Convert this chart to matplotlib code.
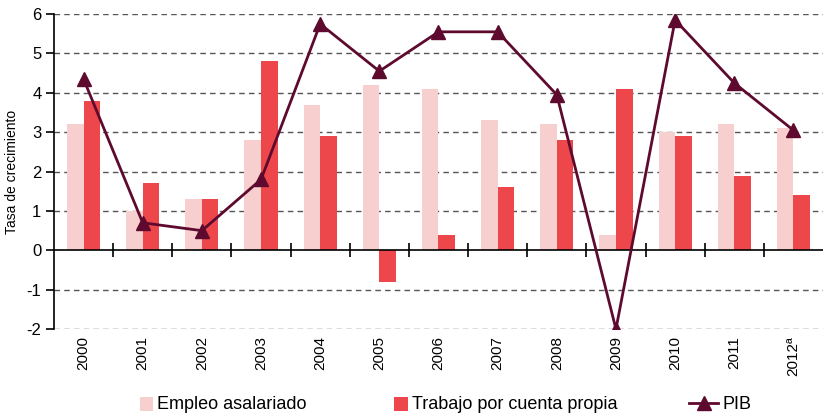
import numpy as np
import matplotlib
matplotlib.use("Agg")
from matplotlib import pyplot as plt
from matplotlib.patches import Rectangle
from matplotlib.legend_handler import HandlerPatch

plt.rcParams['font.family'] = ['Liberation Sans', 'DejaVu Sans']
plt.rcParams['axes.unicode_minus'] = False

# data
years = ['2000', '2001', '2002', '2003', '2004', '2005', '2006',
         '2007', '2008', '2009', '2010', '2011', '2012ª']
empleo_asalariado = [3.2, 1.0, 1.3, 2.8, 3.7, 4.2, 4.1, 3.3, 3.2, 0.4, 3.0, 3.2, 3.1]
cuenta_propia = [3.8, 1.7, 1.3, 4.8, 2.9, -0.8, 0.4, 1.6, 2.8, 4.1, 2.9, 1.9, 1.4]
pib = [4.35, 0.7, 0.5, 1.8, 5.75, 4.55, 5.55, 5.55, 3.95, -2.0, 5.85, 4.25, 3.05]

light = '#F8CFCF'
red = '#EE474B'
maroon = '#5E0A2E'


def square_patch(legend, orig_handle, xdescent, ydescent, width, height, fontsize):
    # small square at the right end of the handle box
    s = height * 1.05
    return Rectangle((-xdescent + width - s, -ydescent - 0.1 * s), s, s)


fig = plt.figure(figsize=(8.23, 4.15), dpi=100)
ax = fig.add_axes([0.0656, 0.207, 0.9344, 0.759])

x = np.arange(len(years))
w = 0.28
b1 = ax.bar(x - w / 2, empleo_asalariado, w, color=light, zorder=2)
b2 = ax.bar(x + w / 2, cuenta_propia, w, color=red, zorder=2)
l1, = ax.plot(x, pib, color=maroon, lw=2, marker='^', ms=10, zorder=4)

ax.set_xlim(-0.5, len(years) - 0.5)
ax.set_ylim(-2, 6)
ax.set_yticks(range(-2, 7))
for v in range(-2, 7):
    if v != 0:
        ax.axhline(v, color='#555555', lw=1, ls=(0, (4, 3)), zorder=1)
ax.axhline(0, color='black', lw=1.2, zorder=3)

# category boundary ticks on the zero line
ax.plot(x[:-1] + 0.5, np.zeros(len(x) - 1), ls='none', marker='|', ms=10,
        mew=1.2, color='black', zorder=3, clip_on=False)

ax.set_xticks(x)
ax.set_xticklabels(years, rotation=90, fontsize=11)
ax.tick_params(axis='x', length=0, pad=5)
ax.tick_params(axis='y', length=6, width=1.2, labelsize=12, pad=3)

for s in ['top', 'right', 'bottom']:
    ax.spines[s].set_visible(False)
ax.spines['left'].set_linewidth(1.2)

ax.set_ylabel('Tasa de crecimiento', fontsize=10)
ax.yaxis.set_label_coords(-0.046, 0.5)

h1 = b1.patches[0]
h2 = b2.patches[0]
fig.legend([h1, h2, l1], ['Empleo asalariado', 'Trabajo por cuenta propia', 'PIB'],
           loc='lower left', bbox_to_anchor=(0.131, -0.035), ncol=3, frameon=False,
           fontsize=13, columnspacing=4.0, handlelength=1.6, handletextpad=0.22,
           handler_map={h1: HandlerPatch(patch_func=square_patch),
                        h2: HandlerPatch(patch_func=square_patch)})

fig.savefig('out.png', dpi=100)
